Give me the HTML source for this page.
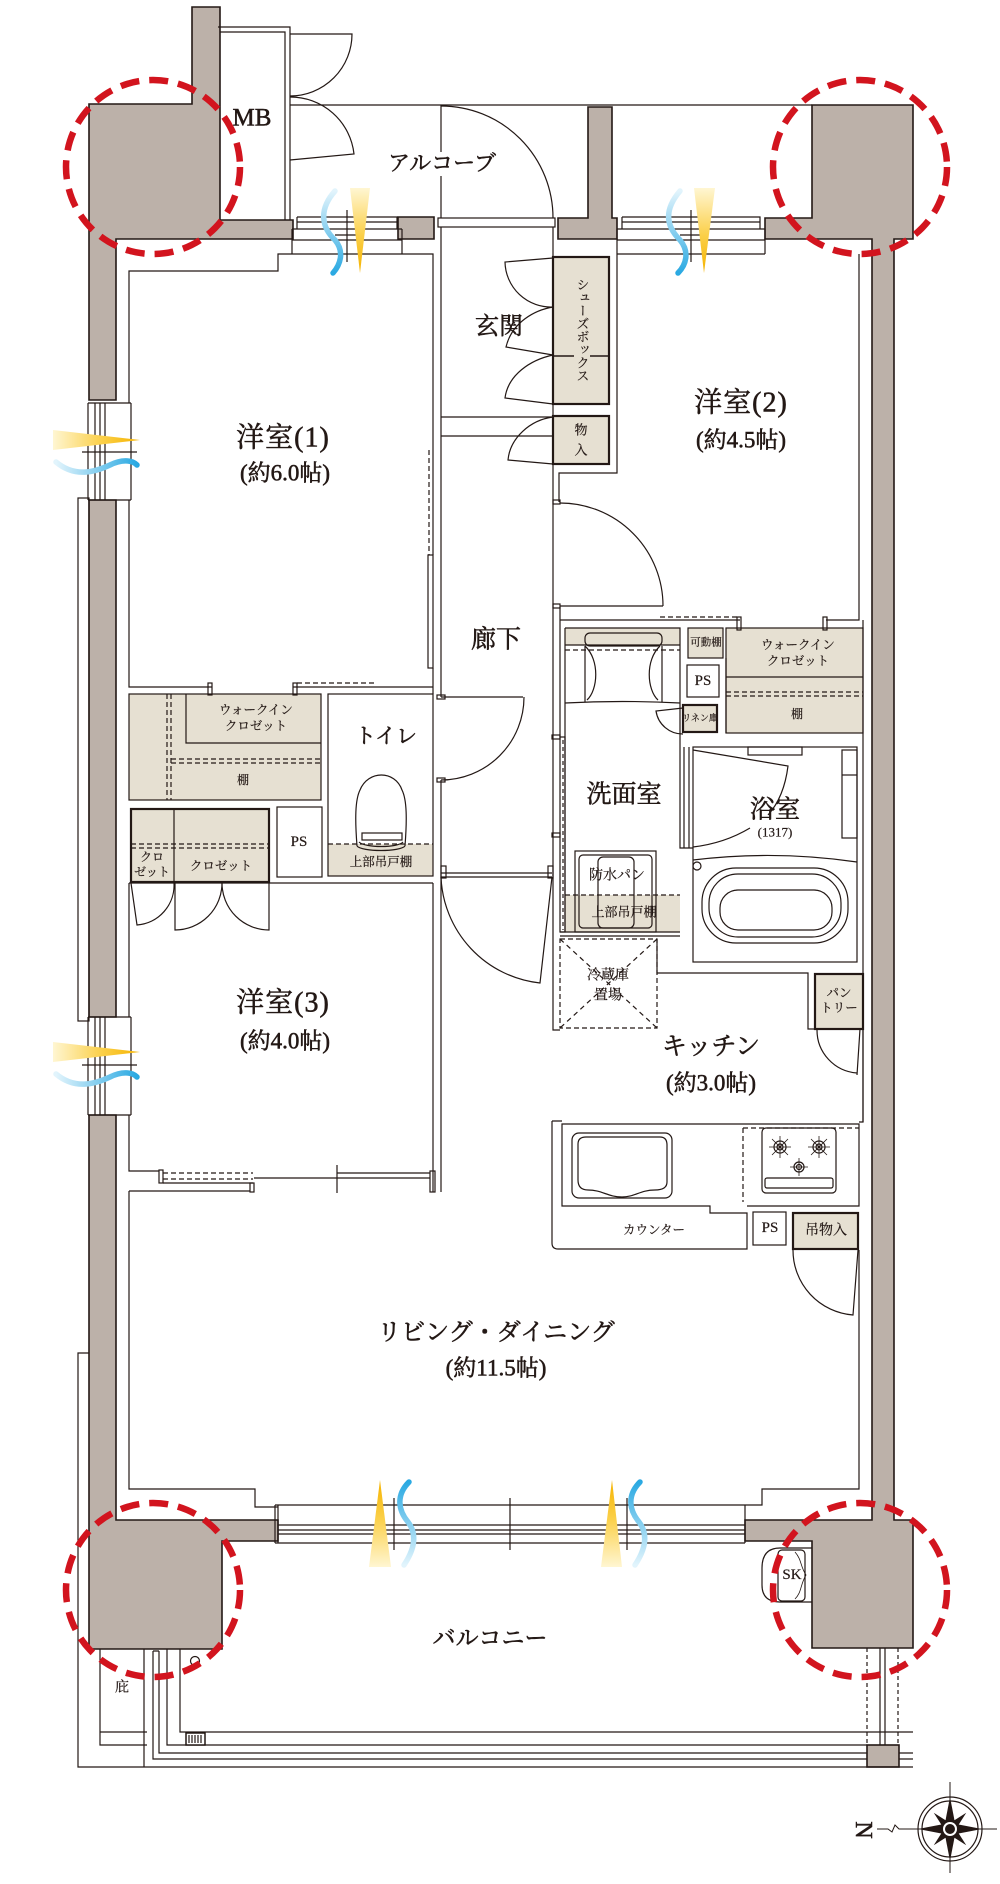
<!DOCTYPE html>
<html><head><meta charset="utf-8">
<style>
html,body{margin:0;padding:0;background:#fff}
svg{display:block}
text{font-family:"Liberation Serif","Noto Serif CJK SC",serif;fill:#231815}
.big text{stroke:#231815;stroke-width:0.55px}
.sm text{stroke:#231815;stroke-width:0.2px}
</style></head>
<body>
<svg width="1000" height="1884" viewBox="0 0 1000 1884" xmlns="http://www.w3.org/2000/svg">
<defs>
<linearGradient id="yd" x1="0" y1="0" x2="0" y2="1"><stop offset="0" stop-color="#fff6d2"/><stop offset="0.55" stop-color="#fbd04a"/><stop offset="1" stop-color="#f5b300"/></linearGradient>
<linearGradient id="yu" x1="0" y1="1" x2="0" y2="0"><stop offset="0" stop-color="#fff6d2"/><stop offset="0.55" stop-color="#fbd04a"/><stop offset="1" stop-color="#f5b300"/></linearGradient>
<linearGradient id="yr" x1="0" y1="0" x2="1" y2="0"><stop offset="0" stop-color="#fff6d2"/><stop offset="0.55" stop-color="#fbd04a"/><stop offset="1" stop-color="#f5b300"/></linearGradient>
<linearGradient id="bd" x1="0" y1="0" x2="0" y2="1"><stop offset="0" stop-color="#e2f4fc"/><stop offset="1" stop-color="#2aa9e2"/></linearGradient>
<linearGradient id="bu" x1="0" y1="1" x2="0" y2="0"><stop offset="0" stop-color="#e2f4fc"/><stop offset="1" stop-color="#2aa9e2"/></linearGradient>
<linearGradient id="br" x1="0" y1="0" x2="1" y2="0"><stop offset="0" stop-color="#e2f4fc"/><stop offset="1" stop-color="#2aa9e2"/></linearGradient>
<polygon id="k1" points="0,-32 5,-6 0,0 -5,-6"/>
<polygon id="k2" points="0,-23 4,-5 0,0 -4,-5"/>
</defs>
<rect width="1000" height="1884" fill="#fff"/>

<!-- beige fills -->
<g fill="#e6e0d2" stroke="#231815" stroke-width="1.2">
<rect x="129" y="694" width="192" height="106"/>
<rect x="131" y="809" width="138" height="73" stroke-width="2.2"/>
<rect x="328" y="844" width="105" height="32" stroke="none"/>
<rect x="553" y="257" width="56" height="147" stroke-width="2.2"/>
<rect x="553" y="416" width="56" height="48" stroke-width="2.2"/>
<rect x="565" y="628" width="115" height="17" stroke="none"/>
<rect x="688" y="628" width="35" height="30"/>
<rect x="683" y="705" width="34" height="27" stroke-width="2.2"/>
<rect x="726" y="628" width="137" height="105"/>
<rect x="565" y="895" width="115" height="37" stroke="none"/>
<rect x="815" y="974" width="48" height="55" stroke-width="2.2"/>
<rect x="793" y="1213" width="65" height="36" stroke-width="2.2"/>
</g>

<!-- walls -->
<g fill="#bcb1a9" stroke="#231815" stroke-width="1.6" stroke-linejoin="miter">
<polygon points="192,7 220,7 220,220 293,220 293,239 116,239 116,400 89,400 89,104 192,104"/>
<polygon points="89,500 116,500 116,1017 89,1017"/>
<polygon points="89,1115 116,1115 116,1520 278,1520 278,1541 222,1541 222,1649 89,1649"/>
<polygon points="588,107 612,107 612,218 617,218 617,239 558,239 558,218 588,218"/>
<polygon points="398,217 434,217 434,239 398,239"/>
<polygon points="812,105 913,105 913,239 894,239 894,1520 913,1520 913,1648 812,1648 812,1541 745,1541 745,1520 872,1520 872,239 765,239 765,218 812,218"/>
<rect x="867" y="1745" width="32" height="22"/>
</g>

<g fill="none" stroke="#231815" stroke-width="1.2">
<!-- MB -->
<path d="M218,27 H290 V220 M220,32 H285 V220"/>
<path d="M290,34 H352 A62,62 0 0 1 290,96"/>
<path d="M290,160 L354,154 A64,64 0 0 0 290,97"/>
<!-- alcove -->
<path d="M290,105 H812"/>
<path d="M441,105 V152 M441,176 V218"/>
<path d="M441,106 A112,112 0 0 1 553,218"/>
<rect x="438" y="218" width="117" height="9"/>
<!-- room1 top window -->
<path d="M292,229 H402 M292,254 H402 M292,229 V254 M402,229 V254 M297,217 H397 V229 M297,217 V229 M297,222 H397 M292,240 H402"/>
<path d="M347,210 V262 M335,235 H360"/>
<!-- room2 top window -->
<path d="M617,229 H765 M617,254 H765 M617,229 V254 M765,229 V254 M622,217 H760 V229 M622,217 V229 M622,222 H760 M617,240 H765"/>
<path d="M691,210 V262 M680,235 H705"/>
<!-- room1 -->
<path d="M129,403 V271 H278 V254 H292 M402,254 H433 V555"/>
<path d="M88,403 H131 M88,500 H131 M88,403 V500 M131,403 V500 M95,403 V500 M100,403 V500 M105,403 V500 M82,452 H137 M100,444 V460"/>
<rect x="78" y="498" width="11" height="523"/>
<path d="M129,500 V687 H212 M293,687 H433"/>
<rect x="208" y="683" width="4" height="12"/>
<rect x="293" y="683" width="4" height="12"/>
<path d="M297,683 H377" stroke-dasharray="5,3"/>
<rect x="428" y="555" width="5" height="113"/>
<path d="M429,450 V555" stroke-dasharray="5,3"/>
<path d="M433,668 V694"/>
<!-- WIC1 -->
<path d="M186,694 V743 H321"/>
<path d="M167,694 V800 M171,694 V800 M171,759 H321 M171,763 H321" stroke-dasharray="5,3"/>
<!-- closets -->
<path d="M174,809 V882"/>
<path d="M131,844 H269 M131,848 H269" stroke-dasharray="5,3"/>
<rect x="277" y="807" width="45" height="70"/>
<!-- toilet room -->
<rect x="328" y="694" width="105" height="182"/>
<path d="M328,844 H433" stroke-dasharray="5,3"/>
<path d="M357,846 C355,820 355,800 360,790 C368,770 395,770 402,790 C407,800 407,820 405,846"/>
<rect x="362" y="833" width="40" height="7"/>
<path d="M357,846 C362,852 400,852 405,846 M359,842 C365,848 398,848 403,842"/>
<!-- room3 -->
<path d="M129,883 H433"/>
<path d="M131,883 L137,925 A40,40 0 0 0 174,883"/>
<path d="M175,883 V930 A47,47 0 0 0 222,883"/>
<path d="M269,883 V930 A47,47 0 0 1 222,883"/>
<path d="M129,883 V1017 M129,1115 V1171 H159"/>
<path d="M88,1017 H131 M88,1115 H131 M88,1017 V1115 M131,1017 V1115 M95,1017 V1115 M100,1017 V1115 M105,1017 V1115 M82,1065 H137 M100,1058 V1073"/>
<rect x="159" y="1170" width="4" height="13"/>
<path d="M163,1173 H253 M163,1179 H253" stroke-dasharray="5,3"/>
<path d="M163,1183 H253"/>
<rect x="250" y="1183" width="4" height="9"/>
<path d="M254,1178 H430 M337,1165 V1193 M337,1173 H430"/>
<rect x="430" y="1171" width="5" height="21"/>
<path d="M433,883 V1192"/>
<path d="M129,1191 H250"/>
<!-- corridor -->
<path d="M441,227 V697 M441,780 V1192"/>
<rect x="437" y="695" width="8" height="4"/>
<rect x="437" y="778" width="8" height="4"/>
<path d="M441,697 H523 M441,780 A83,83 0 0 0 524,697"/>
<path d="M441,417 H553 M441,436 H553"/>
<path d="M553,227 V1030 H560"/>
<!-- genkan doors -->
<path d="M553,258 L505,262 A46,46 0 0 0 553,307"/>
<path d="M553,307 C535,310 512,322 506,347 L553,355"/>
<path d="M553,355 C530,360 508,375 505,398 L553,404"/>
<path d="M553,417 C530,420 510,438 508,460 L553,464"/>
<path d="M553,356 H574 M590,356 H609" stroke-width="1.4"/>
<!-- room2 -->
<path d="M617,254 V473 H559 V502"/>
<rect x="553" y="500" width="7" height="4"/>
<rect x="553" y="604" width="7" height="4"/>
<path d="M560,606 H663 M560,503 A103,103 0 0 1 663,606"/>
<path d="M560,607 V737 M560,620 H740 M826,620 H859 V254"/>
<rect x="737" y="617" width="4" height="13"/>
<rect x="823" y="617" width="4" height="13"/>
<path d="M660,617 H737" stroke-dasharray="5,3"/>
<path d="M726,677 H863 M726,658 V733"/>
<path d="M726,692 H863 M726,696 H863" stroke-dasharray="5,3"/>
<path d="M863,620 V1122 H859"/>
<rect x="687" y="665" width="32" height="32"/>
<!-- washroom -->
<path d="M565,628 H680 V747 M565,628 V932 M565,645 H680"/>
<path d="M565,650 H680" stroke-dasharray="5,3"/>
<rect x="585" y="633" width="77" height="13" rx="5"/>
<path d="M585,646 C600,660 598,690 587,700 M660,646 C645,660 647,690 658,700 M585,646 V702 M662,646 V702"/>
<path d="M565,703 Q622,700 680,703"/>
<path d="M683,708 L656,711 A27,27 0 0 0 683,734"/>
<rect x="560" y="737" width="5" height="195"/>
<path d="M563,740 V930" stroke-dasharray="4,3"/>
<rect x="552" y="735" width="8" height="4"/>
<rect x="552" y="833" width="8" height="4"/>
<path d="M565,895 H680" stroke-dasharray="5,3"/>
<rect x="575" y="851" width="81" height="81"/>
<rect x="579" y="855" width="73" height="73" rx="4"/>
<rect x="598" y="857" width="36" height="71" rx="5"/>
<path d="M560,932 H680 M560,936 H680"/>
<!-- bathroom -->
<rect x="693" y="747" width="164" height="215"/>
<path d="M680,747 V848 H693 M684,747 V848 M689,747 V848"/>
<rect x="748" y="747" width="54" height="8"/>
<path d="M693,750 L788,766 C785,790 777,805 768,815 M750,828 C730,840 710,845 693,847"/>
<rect x="842" y="750" width="15" height="88"/>
<path d="M842,775 H857"/>
<path d="M693,860 Q775,850 857,862"/>
<circle cx="697" cy="866" r="4"/>
<rect x="702" y="868" width="146" height="75" rx="34"/>
<rect x="709" y="874" width="132" height="63" rx="29"/>
<rect x="720" y="890" width="112" height="40" rx="18"/>
<!-- fridge -->
<rect x="560" y="939" width="97" height="89" stroke-dasharray="5,3"/>
<path d="M560,939 L657,1028 M657,939 L560,1028" stroke-dasharray="5,4"/>
<path d="M657,939 V973 H808 V1029 H815"/>
<!-- pantry door -->
<path d="M860,1029 L857,1075 M817,1030 A43,43 0 0 0 857,1073"/>
<path d="M863,1029 V1122"/>
<!-- LD door -->
<path d="M441,873 H552 M441,877 H552"/>
<rect x="441" y="866" width="5" height="12"/>
<rect x="548" y="866" width="5" height="12"/>
<path d="M441,877 A111,111 0 0 0 540,983 L552,877"/>
<!-- kitchen counter -->
<path d="M552,1121 V1243 Q552,1249 558,1249 H747 V1213 H710 V1206 H562 V1124 H859 V1206 H747 M552,1121 H562"/>
<rect x="572" y="1133" width="100" height="65" rx="7"/>
<path d="M578,1144 Q578,1137 586,1137 H660 Q667,1137 667,1145 V1182 Q667,1190 655,1190 C640,1190 635,1197 622,1197 C608,1197 602,1190 588,1190 Q578,1190 578,1180 Z"/>
<path d="M743,1128 H859 M743,1128 V1202" stroke-dasharray="5,3"/>
<rect x="762" y="1128" width="74" height="65" rx="4"/>
<rect x="765" y="1178" width="68" height="10" rx="2"/>
<circle cx="780" cy="1147" r="6"/><circle cx="780" cy="1147" r="3"/>
<circle cx="819" cy="1147" r="6"/><circle cx="819" cy="1147" r="3"/>
<circle cx="799" cy="1167" r="5"/><circle cx="799" cy="1167" r="2.5"/>
<path d="M780,1136 V1158 M769,1147 H791 M772,1139 L788,1155 M788,1139 L772,1155 M819,1136 V1158 M808,1147 H830 M811,1139 L827,1155 M827,1139 L811,1155 M799,1158 V1176 M790,1167 H808" stroke-width="0.8"/>
<rect x="753" y="1212" width="33" height="33"/>
<path d="M858,1250 L853,1315 A65,65 0 0 1 793,1250"/>
<!-- LD -->
<path d="M129,1191 V1489 H255 V1507 H278"/>
<path d="M275,1505 H745 M275,1543 H745 M278,1525 H745 M278,1530 H745 M278,1534 H745 M275,1505 V1543 M278,1505 V1543 M745,1505 V1543"/>
<path d="M394,1498 V1550 M510,1498 V1550 M627,1498 V1550"/>
<path d="M745,1505 H762 V1489 H859 V1250"/>
<!-- balcony -->
<path d="M89,1353 H78 V1767 H913"/>
<path d="M144,1649 V1767"/>
<path d="M100,1649 V1745 H147 M100,1732 H147"/>
<path d="M153,1651 V1759 H867 M159,1651 V1753 H867 M153,1651 H159"/>
<path d="M167,1649 V1745 H867 M180,1649 V1732 H913"/>
<path d="M899,1753 H913 M899,1759 H913"/>
<path d="M880,1648 V1745 M885,1648 V1745"/>
<path d="M867,1648 V1745 M898,1648 V1745" stroke-dasharray="4,3"/>
<rect x="186" y="1733" width="19" height="12" fill="#fff" stroke-width="1.5"/>
<path d="M189,1735 V1743 M192,1735 V1743 M195,1735 V1743 M198,1735 V1743 M201,1735 V1743"/>
<circle cx="195" cy="1661" r="4.5"/>
<!-- SK -->
<path d="M812,1548 H780 Q762,1548 762,1568 V1585 Q762,1602 780,1602 H812"/>
<rect x="778" y="1550" width="27" height="51" rx="4"/>
<path d="M795,1552 C802,1560 800,1566 806,1575 C800,1585 802,1592 795,1599" stroke-width="0.8"/>
<!-- compass -->
<circle cx="950" cy="1829" r="32"/>
<circle cx="950" cy="1829" r="28"/>
<path d="M950,1782 V1873 M877,1829 H888 L892,1832 L895,1825 L899,1829 H997" stroke-width="1"/>
</g>

<!-- compass star -->
<g fill="#231815">
<use href="#k1" transform="translate(950,1829) rotate(0)"/>
<use href="#k1" transform="translate(950,1829) rotate(90)"/>
<use href="#k1" transform="translate(950,1829) rotate(180)"/>
<use href="#k1" transform="translate(950,1829) rotate(270)"/>
<use href="#k2" transform="translate(950,1829) rotate(45)"/>
<use href="#k2" transform="translate(950,1829) rotate(135)"/>
<use href="#k2" transform="translate(950,1829) rotate(225)"/>
<use href="#k2" transform="translate(950,1829) rotate(315)"/>
<circle cx="950" cy="1829" r="7" fill="#fff"/>
<circle cx="950" cy="1829" r="5"/>
</g>

<!-- airflow -->
<g>
<polygon points="350,188 370,188 360,273" fill="url(#yd)"/>
<polygon points="694,188 715,188 704,273" fill="url(#yd)"/>
<polygon points="53,430 53,450 140,440" fill="url(#yr)"/>
<polygon points="53,1042 53,1062 140,1052" fill="url(#yr)"/>
<polygon points="380,1480 369,1567 391,1567" fill="url(#yu)"/>
<polygon points="612,1480 601,1567 622,1567" fill="url(#yu)"/>
<g fill="none" stroke-width="5.5" stroke-linecap="round">
<path d="M335,191 C318,210 322,228 335,240 C345,252 340,265 333,273" stroke="url(#bd)"/>
<path d="M680,191 C662,212 668,228 680,240 C690,252 686,265 678,273" stroke="url(#bd)"/>
<path d="M56,462 C75,478 95,472 110,465 C122,459 132,460 137,465" stroke="url(#br)"/>
<path d="M56,1074 C75,1090 95,1084 110,1077 C122,1071 132,1072 137,1077" stroke="url(#br)"/>
<path d="M409,1482 C396,1495 398,1510 408,1522 C418,1535 414,1550 404,1565" stroke="url(#bu)"/>
<path d="M640,1482 C627,1495 629,1510 639,1522 C649,1535 645,1550 635,1565" stroke="url(#bu)"/>
</g>
</g>

<!-- labels -->
<g text-anchor="middle" dominant-baseline="central" class="big">
<text x="252" y="118" font-size="25">MB</text>
<text x="442" y="163" font-size="22">アルコーブ</text>
<text x="499" y="327" font-size="24">玄関</text>
<text x="283" y="438" font-size="28" letter-spacing="1">洋室(1)</text>
<text x="285" y="473" font-size="23">(約6.0帖)</text>
<text x="741" y="403" font-size="28" letter-spacing="1">洋室(2)</text>
<text x="741" y="440" font-size="23">(約4.5帖)</text>
<text x="496" y="640" font-size="25">廊下</text>
<text x="386" y="736" font-size="21">トイレ</text>
<text x="624" y="795" font-size="25">洗面室</text>
<text x="775" y="810" font-size="25">浴室</text>
<text x="283" y="1003" font-size="28" letter-spacing="1">洋室(3)</text>
<text x="285" y="1041" font-size="23">(約4.0帖)</text>
<text x="711" y="1047" font-size="25">キッチン</text>
<text x="711" y="1083" font-size="23">(約3.0帖)</text>
<text x="496" y="1333" font-size="24">リビング・ダイニング</text>
<text x="496" y="1368" font-size="23">(約11.5帖)</text>
<text x="490" y="1638" font-size="23">バルコニー</text>
<text x="863" y="1830" font-size="24" transform="rotate(90 863 1830)">N</text>
</g>
<g text-anchor="middle" dominant-baseline="central" class="sm">
<text x="775" y="832" font-size="13">(1317)</text>
<text x="256" y="710" font-size="12.5">ウォークイン</text>
<text x="256" y="726" font-size="12.5">クロゼット</text>
<text x="243" y="780" font-size="12">棚</text>
<text x="152" y="857" font-size="12">クロ</text>
<text x="152" y="872" font-size="12">ゼット</text>
<text x="221" y="866" font-size="12.5">クロゼット</text>
<text x="299" y="842" font-size="15">PS</text>
<text x="381" y="862" font-size="12.5">上部吊戸棚</text>
<text x="582" y="330" font-size="13" style="writing-mode:vertical-rl">シューズボックス</text>
<text x="581" y="430" font-size="13">物</text>
<text x="581" y="450" font-size="13">入</text>
<text x="706" y="643" font-size="10.5">可動棚</text>
<text x="703" y="681" font-size="15">PS</text>
<text x="700" y="718" font-size="9">リネン庫</text>
<text x="798" y="645" font-size="12.5">ウォークイン</text>
<text x="798" y="661" font-size="12.5">クロゼット</text>
<text x="797" y="714" font-size="12">棚</text>
<text x="617" y="876" font-size="14">防水パン</text>
<text x="624" y="912" font-size="13">上部吊戸棚</text>
<text x="608" y="976" font-size="14">冷蔵庫</text>
<text x="608" y="996" font-size="14">置場</text>
<text x="839" y="993" font-size="12.5">パン</text>
<text x="839" y="1008" font-size="12.5">トリー</text>
<text x="654" y="1230" font-size="12.5">カウンター</text>
<text x="770" y="1228" font-size="15">PS</text>
<text x="826" y="1231" font-size="14">吊物入</text>
<text x="792" y="1575" font-size="15">SK</text>
<text x="122" y="1688" font-size="14">庇</text>
</g>

<!-- red dashed circles -->
<g fill="none" stroke="#d2141e" stroke-width="6.5" stroke-dasharray="19,10">
<circle cx="153" cy="167" r="87"/>
<circle cx="860" cy="167" r="87"/>
<circle cx="153" cy="1590" r="87"/>
<circle cx="860" cy="1590" r="87"/>
</g>
</svg>
</body></html>
